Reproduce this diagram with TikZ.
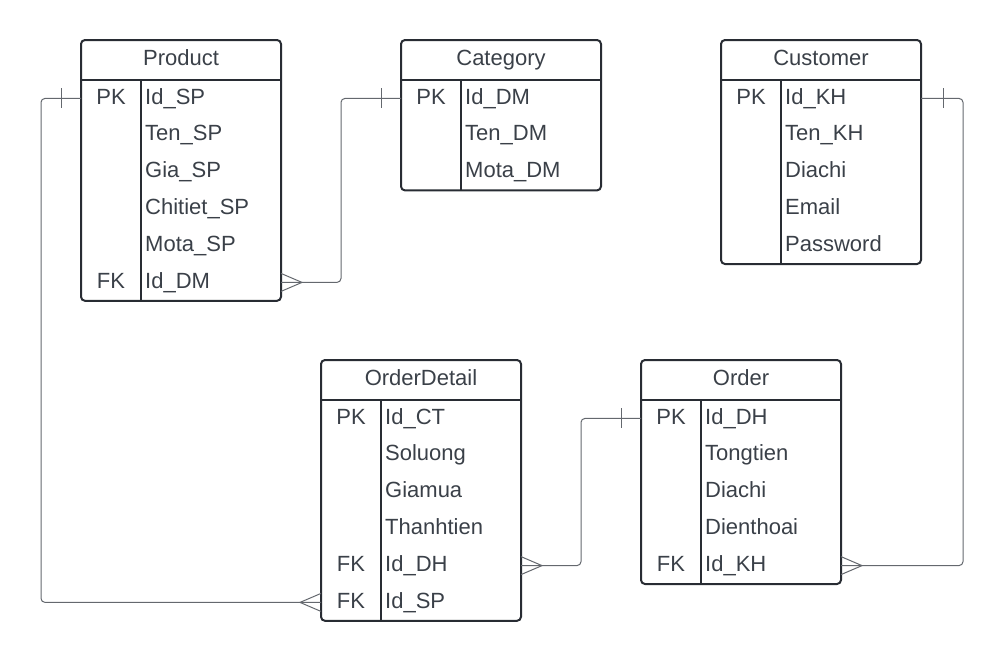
\documentclass[tikz,border=0pt]{standalone}
\usepackage{fontspec}
\setmainfont{Liberation Sans}
\definecolor{erline}{RGB}{40,44,51}
\definecolor{ertext}{RGB}{58,64,72}
\definecolor{erconn}{RGB}{100,104,110}

% header line and key column of a table
\newcommand\ertableframe[1]{%
  \draw[tblline] ([yshift=-40pt]#1.north west) -- ([yshift=-40pt]#1.north east);
  \draw[tblline] ([xshift=60pt,yshift=-40pt]#1.north west) -- ([xshift=60pt]#1.south west);}

\begin{document}
\begin{tikzpicture}[x=1pt,y=-1pt]

%
% Styles
%
\tikzstyle{tblbox} = [rectangle,rounded corners=4pt,draw=erline,line width=2pt,minimum width=200pt,inner sep=0pt,outer sep=0pt]
\tikzstyle{tblline} = [draw=erline,line width=2pt]
\tikzstyle{rowbox} = [rectangle,minimum width=200pt,minimum height=36.8pt,inner sep=0pt,outer sep=0pt]
\tikzstyle{titletxt} = [anchor=base,inner sep=0pt,text=ertext,font=\fontsize{22}{26}\selectfont]
\tikzstyle{keytxt} = [anchor=base,inner sep=0pt,text=ertext,font=\fontsize{22}{26}\selectfont]
\tikzstyle{fieldtxt} = [anchor=base west,inner sep=0pt,text=ertext,font=\fontsize{22}{26}\selectfont]
\tikzstyle{conn} = [draw=erconn,line width=1pt,rounded corners=4pt]
\tikzstyle{connmark} = [draw=erconn,line width=1pt]

\useasboundingbox (0,0) rectangle (1002,662);

% tables
\node[tblbox,minimum height=260.8pt] (product) at (181,170.4) {};
\node[tblbox,minimum height=150.4pt] (category) at (501,115.2) {};
\node[tblbox,minimum height=224pt] (customer) at (821,152) {};
\node[tblbox,minimum height=260.8pt] (orderdetail) at (421,490.4) {};
\node[tblbox,minimum height=224pt] (order) at (741,472) {};

\ertableframe{product}
\ertableframe{category}
\ertableframe{customer}
\ertableframe{orderdetail}
\ertableframe{order}

\node[titletxt] (product-t) at ([yshift=-25pt]product.north) {Product};
\node[titletxt] (category-t) at ([yshift=-25pt]category.north) {Category};
\node[titletxt] (customer-t) at ([yshift=-25pt]customer.north) {Customer};
\node[titletxt] (orderdetail-t) at ([yshift=-25pt]orderdetail.north) {OrderDetail};
\node[titletxt] (order-t) at ([yshift=-25pt]order.north) {Order};

% rows
\foreach \tbl/\rows in {%
    product/{PK/Id\_SP,/Ten\_SP,/Gia\_SP,/Chitiet\_SP,/Mota\_SP,FK/Id\_DM},
    category/{PK/Id\_DM,/Ten\_DM,/Mota\_DM},
    customer/{PK/Id\_KH,/Ten\_KH,/Diachi,/Email,/Password},
    orderdetail/{PK/Id\_CT,/Soluong,/Giamua,/Thanhtien,FK/Id\_DH,FK/Id\_SP},
    order/{PK/Id\_DH,/Tongtien,/Diachi,/Dienthoai,FK/Id\_KH}} {
  \foreach \k/\f [count=\i] in \rows {
    \node[rowbox] (\tbl-\i) at ([yshift={-40-(\i-0.5)*36.8}]\tbl.north) {};
    \node[keytxt] (\tbl-k\i) at ([xshift=-70pt,yshift=-5.6pt]\tbl-\i.center) {\k};
    \node[fieldtxt] (\tbl-f\i) at ([xshift=-36pt,yshift=-5.6pt]\tbl-\i.center) {\f};
  }
}

% relations
\draw[conn] (product-1.west) -- ++(-40,0) |- (orderdetail-6.west);
\draw[conn] (product-6.east) -- ++(60,0) |- (category-1.west);
\draw[conn] (orderdetail-5.east) -- ++(60,0) |- (order-1.west);
\draw[conn] (order-5.east) -- ++(122,0) |- (customer-1.east);

% one
\draw[connmark] ([xshift=-20pt,yshift=10pt]product-1.west) -- ([xshift=-20pt,yshift=-10pt]product-1.west);
\draw[connmark] ([xshift=-20pt,yshift=10pt]category-1.west) -- ([xshift=-20pt,yshift=-10pt]category-1.west);
\draw[connmark] ([xshift=-20pt,yshift=10pt]order-1.west) -- ([xshift=-20pt,yshift=-10pt]order-1.west);
\draw[connmark] ([xshift=22pt,yshift=10pt]customer-1.east) -- ([xshift=22pt,yshift=-10pt]customer-1.east);

% many
\draw[connmark] ([yshift=9pt]orderdetail-6.west) -- ([xshift=-21pt]orderdetail-6.west) -- ([yshift=-9pt]orderdetail-6.west);
\draw[connmark] ([yshift=9pt]product-6.east) -- ([xshift=21pt]product-6.east) -- ([yshift=-9pt]product-6.east);
\draw[connmark] ([yshift=9pt]orderdetail-5.east) -- ([xshift=21pt]orderdetail-5.east) -- ([yshift=-9pt]orderdetail-5.east);
\draw[connmark] ([yshift=9pt]order-5.east) -- ([xshift=21pt]order-5.east) -- ([yshift=-9pt]order-5.east);

\end{tikzpicture}
\end{document}
